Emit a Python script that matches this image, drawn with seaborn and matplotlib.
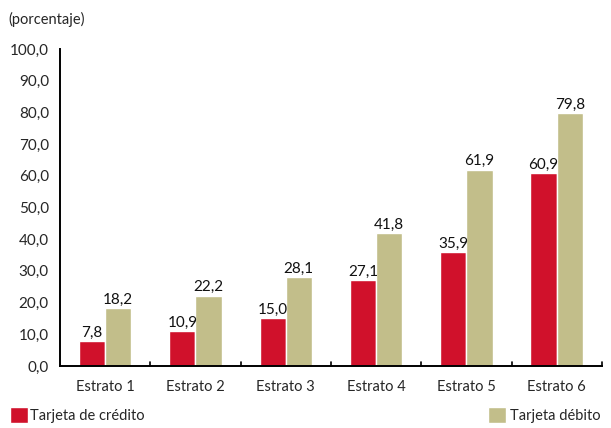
import matplotlib
matplotlib.use("Agg")
import matplotlib.pyplot as plt
import seaborn as sns
import pandas as pd

categorias = ["Estrato 1", "Estrato 2", "Estrato 3", "Estrato 4", "Estrato 5", "Estrato 6"]
credito = [7.8, 10.9, 15.0, 27.1, 35.9, 60.9]
debito = [18.2, 22.2, 28.1, 41.8, 61.9, 79.8]
series = ["Tarjeta de crédito", "Tarjeta débito"]
colores = ["#D0112B", "#C2BE8A"]
yticks = [0, 10, 20, 30, 40, 50, 60, 70, 80, 90, 100]

df = pd.DataFrame({
    "estrato": categorias * 2,
    "valor": credito + debito,
    "serie": [series[0]] * len(categorias) + [series[1]] * len(categorias),
})

sns.set_style("white")
plt.rcParams["font.family"] = ["Lato", "DejaVu Sans"]

def fmt(v):
    return f"{v:.1f}".replace(".", ",")

fig = plt.figure(figsize=(6.11, 4.28), dpi=100)
ax = fig.add_axes([0.0982, 0.1449, 0.8868, 0.7406])

sns.barplot(data=df, x="estrato", y="valor", hue="serie", palette=colores,
            width=0.58, saturation=1, ax=ax, legend=False)

for cont in ax.containers:
    ax.bar_label(cont, labels=[fmt(b.get_height()) for b in cont], padding=1,
                 fontsize=11, color="#111111")

ax.set_ylim(0, 100)
ax.set_xlim(-0.5, len(categorias) - 0.5)
ax.set_yticks(yticks)
ax.set_yticklabels([fmt(v) for v in yticks], fontsize=11)
ax.set_xticks(range(len(categorias)))
ax.set_xticklabels(categorias, fontsize=10.5)
ax.tick_params(axis="x", length=0, pad=10)
ax.tick_params(axis="y", direction="in", length=4, width=1.2, pad=8, color="black")
# boundary ticks between categories
for xb in [i + 0.5 for i in range(len(categorias))]:
    ax.plot([xb, xb], [0, 1.3], color="black", lw=1.2, clip_on=False)
ax.set_xlabel("")
ax.set_ylabel("")
for s in ["top", "right"]:
    ax.spines[s].set_visible(False)
for s in ["left", "bottom"]:
    ax.spines[s].set_color("black")
    ax.spines[s].set_linewidth(1.4)

fig.text(0.013, 0.955, "(porcentaje)", fontsize=10.5, ha="left", va="center")

handles = ax.containers
fig.legend(handles=[handles[0]], labels=[series[0]], loc="lower left",
           bbox_to_anchor=(0.0, -0.012), frameon=False, fontsize=10.5,
           handlelength=1.2, handleheight=1.25, handletextpad=0.15, borderaxespad=0.3)
fig.legend(handles=[handles[1]], labels=[series[1]], loc="lower right",
           bbox_to_anchor=(1.0, -0.012), frameon=False, fontsize=10.5,
           handlelength=1.2, handleheight=1.25, handletextpad=0.3, borderaxespad=0.3)

fig.savefig("out.png", dpi=100)
